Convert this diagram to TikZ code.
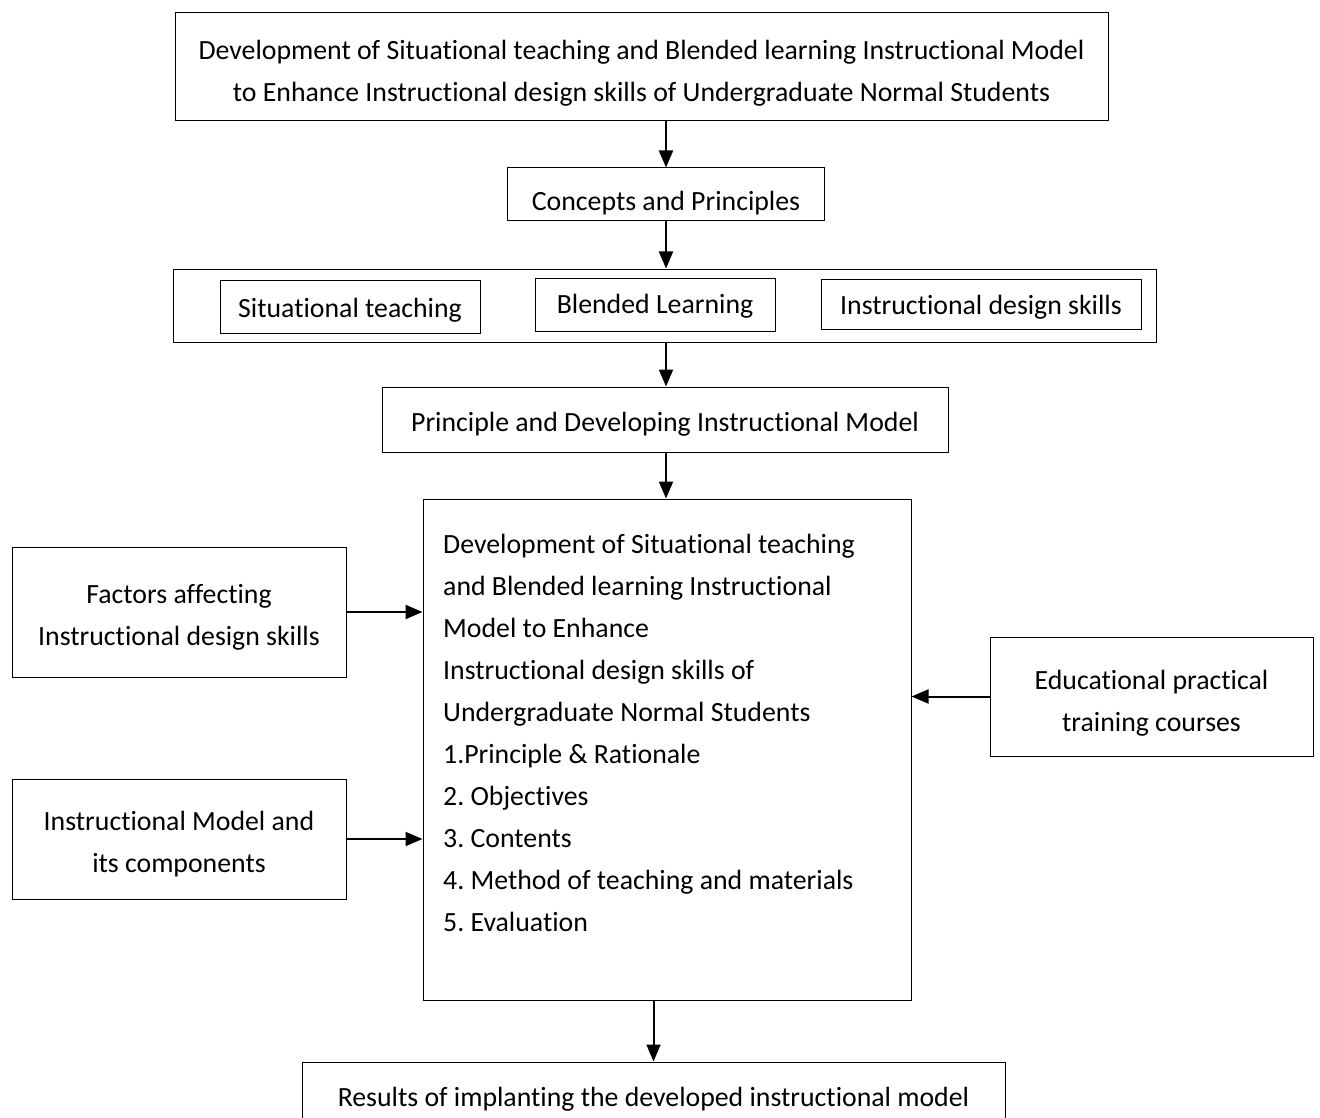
\documentclass[tikz,border=0pt]{standalone}
\usepackage{fontspec}
\setmainfont{Carlito}[Ligatures=NoCommon]
\usetikzlibrary{arrows.meta}
\begin{document}
\frenchspacing
\begin{tikzpicture}[x=1pt,y=-1pt,
  box/.style={draw, line width=1pt, inner sep=0pt},
  lbl/.style={inner sep=0pt, align=center, font=\fontsize{27.8}{42}\selectfont},
  arr/.style={line width=2pt, -{Triangle[length=17pt,width=14pt]}}]
\useasboundingbox (0,0) rectangle (1320,1118);
\node[box, minimum width=933pt, minimum height=108pt] (top) at (641.5,67) {};
\node[lbl] (topt) at ([yshift=-6pt]top.center)
  {Development of Situational teaching and Blended learning Instructional Model\\
   to Enhance Instructional design skills of Undergraduate Normal Students};
\node[box, minimum width=317pt, minimum height=53pt] (con) at (666,194.5) {};
\node[lbl] (cont-t) at ([yshift=-9pt]con.center) {Concepts and Principles};
\node[box, minimum width=983pt, minimum height=73pt] (cont) at (664.5,305.5) {};
\node[box, minimum width=260pt, minimum height=53pt] (sit) at (350,306.5) {};
\node[lbl] (sitt) at ([yshift=-4pt]sit.center) {Situational teaching};
\node[box, minimum width=240pt, minimum height=53pt] (bl) at (655,304.5) {};
\node[lbl] (blt) at ([yshift=-2pt]bl.center) {Blended Learning};
\node[box, minimum width=320pt, minimum height=50pt] (ids) at (981,304) {};
\node[lbl] (idst) at ([yshift=-3pt]ids.center) {Instructional design skills};
\node[box, minimum width=566pt, minimum height=65pt] (pr) at (665,419.5) {};
\node[lbl] (prt) at ([yshift=-5pt]pr.center) {Principle and Developing Instructional Model};
\node[box, minimum width=488pt, minimum height=501pt] (main) at (667,749.5) {};
\node[lbl, anchor=north west, align=left] (maintext) at (443,534)
  {Development of Situational teaching\\
   and Blended learning Instructional\\
   Model to Enhance\\
   Instructional design skills of\\
   Undergraduate Normal Students\\
   1.Principle \& Rationale\\
   2. Objectives\\
   3. Contents\\
   4. Method of teaching and materials\\
   5. Evaluation};
\node[box, minimum width=334pt, minimum height=130pt] (fac) at (179,612) {};
\node[lbl] (fact) at ([yshift=-5pt]fac.center) {Factors affecting\\ Instructional design skills};
\node[box, minimum width=334pt, minimum height=120pt] (im) at (179,839) {};
\node[lbl] (imt) at ([yshift=-5pt]im.center) {Instructional Model and\\ its components};
\node[box, minimum width=323pt, minimum height=119pt] (edu) at (1151.5,696.5) {};
\node[lbl] (edut) at ([yshift=-7pt]edu.center) {Educational practical\\ training courses};
\node[box, minimum width=703pt, minimum height=78pt] (res) at (653.5,1101) {};
\node[lbl] (rest) at ([yshift=2pt]res.center) {Results of implanting the developed instructional model};
\draw[arr] (top.south -| con.north) -- (con.north);
\draw[arr] (con.south) -- (cont.north -| con.south);
\draw[arr] (cont.south -| con.south) -- (pr.north -| con.south);
\draw[arr] (pr.south -| con.south) -- (main.north -| con.south);
\draw[arr] (fac.east) -- (fac.east -| main.west);
\draw[arr] (im.east) -- (im.east -| main.west);
\draw[arr] (edu.west) -- (edu.west -| main.east);
\draw[arr] (main.south -| res.north) -- (res.north);
\end{tikzpicture}
\end{document}
